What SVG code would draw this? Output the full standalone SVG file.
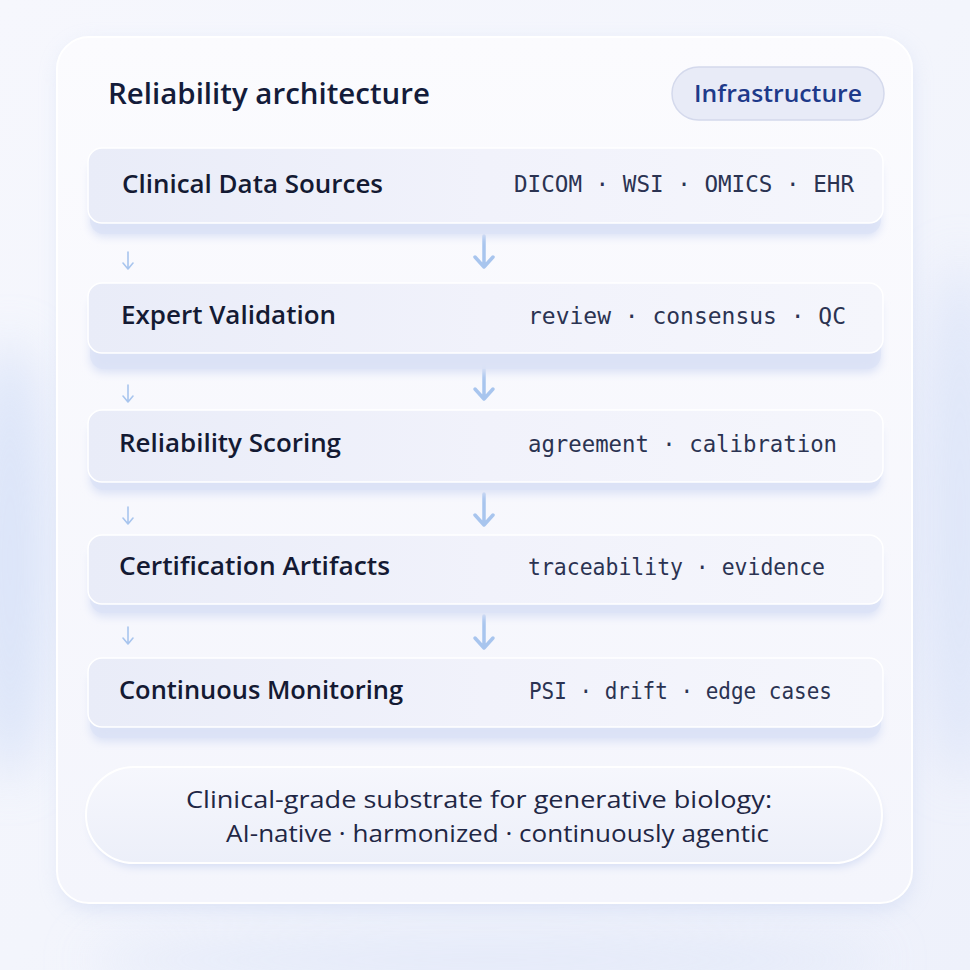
<svg xmlns="http://www.w3.org/2000/svg" width="970" height="970" viewBox="0 0 970 970">
<defs>
<linearGradient id="bg" x1="0" y1="0" x2="1" y2="1">
<stop offset="0" stop-color="#f6f7fd"/>
<stop offset="0.5" stop-color="#f3f5fc"/>
<stop offset="1" stop-color="#eef1fb"/>
</linearGradient>
<linearGradient id="card" x1="0" y1="0" x2="0" y2="1">
<stop offset="0" stop-color="#fbfbfe"/>
<stop offset="1" stop-color="#f4f5fc"/>
</linearGradient>
<linearGradient id="row" x1="0" y1="0" x2="1" y2="0">
<stop offset="0" stop-color="#e9ecf8"/>
<stop offset="0.5" stop-color="#f1f2fb"/>
<stop offset="1" stop-color="#f5f6fc"/>
</linearGradient>
<linearGradient id="pill" x1="0" y1="0" x2="0" y2="1">
<stop offset="0" stop-color="#f6f7fd"/>
<stop offset="1" stop-color="#eceff9"/>
</linearGradient>
<filter id="blur" x="-20%" y="-20%" width="140%" height="140%"><feGaussianBlur stdDeviation="10"/></filter>
<filter id="soft" x="-10%" y="-30%" width="120%" height="160%"><feGaussianBlur stdDeviation="4"/></filter>
<filter id="glow" x="-50%" y="-50%" width="200%" height="200%"><feGaussianBlur stdDeviation="25"/></filter>
</defs>
<style>
.title{font-family:"Open Sans","Noto Sans",sans-serif;font-weight:600;font-size:28px;fill:#141c3a}
.badge{font-family:"Open Sans","Noto Sans",sans-serif;font-weight:600;font-size:24px;fill:#1e3a8a}
.name{font-family:"Open Sans","Noto Sans",sans-serif;font-weight:600;font-size:25px;fill:#141a33}
.meta{font-family:"DejaVu Sans Mono","Liberation Mono",monospace;font-size:22.5px;fill:#2b3352}
.foot{font-family:"Open Sans","Noto Sans",sans-serif;font-size:24px;fill:#1f2745}
.rowbox{fill:url(#row);stroke:#ffffff;stroke-width:1.5}
.rowshadow{fill:#dbe2f6}
.bigarrow{stroke:#a8c5ee;stroke-width:3.5;fill:none;stroke-linecap:round;stroke-linejoin:round}
.smallarrow{stroke:#a8c5ee;stroke-width:1.6;fill:none;stroke-linecap:round;stroke-linejoin:round}
</style>
<rect width="970" height="970" fill="url(#bg)"/>
<ellipse cx="10" cy="560" rx="40" ry="220" fill="#c9d8f6" opacity="0.6" filter="url(#glow)"/>
<ellipse cx="960" cy="520" rx="40" ry="260" fill="#d3def7" opacity="0.6" filter="url(#glow)"/>
<ellipse cx="485" cy="960" rx="400" ry="30" fill="#dfe6f8" opacity="0.7" filter="url(#glow)"/>

<g id="card-frame">
<rect x="60" y="44" width="852" height="866" rx="32" fill="#c7d3f0" opacity="0.5" filter="url(#blur)"/>
<rect x="57" y="37" width="855" height="866" rx="32" fill="url(#card)" stroke="#ffffff" stroke-width="2"/>
</g>

<g id="header">
<text class="title" x="108" y="104" textLength="322" lengthAdjust="spacingAndGlyphs">Reliability architecture</text>
</g>
<g id="badge-infrastructure">
<rect x="672" y="67" width="212" height="53" rx="26.5" fill="#e8ebf7" stroke="#d4d9ec" stroke-width="1.5"/>
<text class="badge" x="694" y="102" textLength="168" lengthAdjust="spacingAndGlyphs">Infrastructure</text>
</g>

<g id="connectors">
<path class="bigarrow" d="M484 236 V266 M475 257 L484 267 L493 257"/>
<path class="bigarrow" d="M484 366 V398 M475 389 L484 399 L493 389"/>
<path class="bigarrow" d="M484 494 V524 M475 515 L484 525 L493 515"/>
<path class="bigarrow" d="M484 616 V647 M475 638 L484 648 L493 638"/>
<path class="smallarrow" d="M128 252 V269 M123 263 L128 269 L133 263"/>
<path class="smallarrow" d="M128 385 V402 M123 396 L128 402 L133 396"/>
<path class="smallarrow" d="M128 507 V524 M123 518 L128 524 L133 518"/>
<path class="smallarrow" d="M128 627 V644 M123 638 L128 644 L133 638"/>
</g>

<g id="node-clinical-data-sources">
<rect class="rowshadow" x="90" y="160" width="791" height="77" rx="14" filter="url(#soft)"/>
<rect class="rowshadow" x="90" y="158" width="791" height="76" rx="14" opacity="0.7"/>
<rect class="rowbox" x="88" y="148" width="795" height="75" rx="14"/>
<text class="name" x="122" y="193" textLength="261" lengthAdjust="spacingAndGlyphs">Clinical Data Sources</text>
<text class="meta" x="514" y="192" textLength="340" lengthAdjust="spacingAndGlyphs">DICOM · WSI · OMICS · EHR</text>
</g>

<g id="node-expert-validation">
<rect class="rowshadow" x="90" y="295" width="791" height="78" rx="14" filter="url(#soft)"/>
<rect class="rowshadow" x="90" y="293" width="791" height="76" rx="14" opacity="0.7"/>
<rect class="rowbox" x="88" y="283" width="795" height="70" rx="14"/>
<text class="name" x="121" y="324" textLength="215" lengthAdjust="spacingAndGlyphs">Expert Validation</text>
<text class="meta" x="528" y="324" textLength="318" lengthAdjust="spacingAndGlyphs">review · consensus · QC</text>
</g>

<g id="node-reliability-scoring">
<rect class="rowshadow" x="90" y="422" width="791" height="72" rx="14" filter="url(#soft)"/>
<rect class="rowshadow" x="90" y="420" width="791" height="70" rx="14" opacity="0.7"/>
<rect class="rowbox" x="88" y="410" width="795" height="72" rx="14"/>
<text class="name" x="119" y="452" textLength="222" lengthAdjust="spacingAndGlyphs">Reliability Scoring</text>
<text class="meta" x="528" y="452" textLength="309" lengthAdjust="spacingAndGlyphs">agreement · calibration</text>
</g>

<g id="node-certification-artifacts">
<rect class="rowshadow" x="90" y="547" width="791" height="70" rx="14" filter="url(#soft)"/>
<rect class="rowshadow" x="90" y="545" width="791" height="68" rx="14" opacity="0.7"/>
<rect class="rowbox" x="88" y="535" width="795" height="69" rx="14"/>
<text class="name" x="119" y="575" textLength="271" lengthAdjust="spacingAndGlyphs">Certification Artifacts</text>
<text class="meta" x="528" y="575" textLength="297" lengthAdjust="spacingAndGlyphs">traceability · evidence</text>
</g>

<g id="node-continuous-monitoring">
<rect class="rowshadow" x="90" y="670" width="791" height="72" rx="14" filter="url(#soft)"/>
<rect class="rowshadow" x="90" y="668" width="791" height="70" rx="14" opacity="0.7"/>
<rect class="rowbox" x="88" y="658" width="795" height="69" rx="14"/>
<text class="name" x="119" y="699" textLength="284" lengthAdjust="spacingAndGlyphs">Continuous Monitoring</text>
<text class="meta" x="529" y="699" textLength="303" lengthAdjust="spacingAndGlyphs">PSI · drift · edge cases</text>
</g>

<g id="node-substrate">
<rect x="90" y="775" width="791" height="92" rx="46" fill="#d6def4" filter="url(#soft)"/>
<rect x="86" y="767" width="796" height="96" rx="48" fill="url(#pill)" stroke="#ffffff" stroke-width="2"/>
<text class="foot" x="186" y="808" textLength="586" lengthAdjust="spacingAndGlyphs">Clinical-grade substrate for generative biology:</text>
<text class="foot" x="226" y="842" textLength="543" lengthAdjust="spacingAndGlyphs">AI-native · harmonized · continuously agentic</text>
</g>
</svg>
